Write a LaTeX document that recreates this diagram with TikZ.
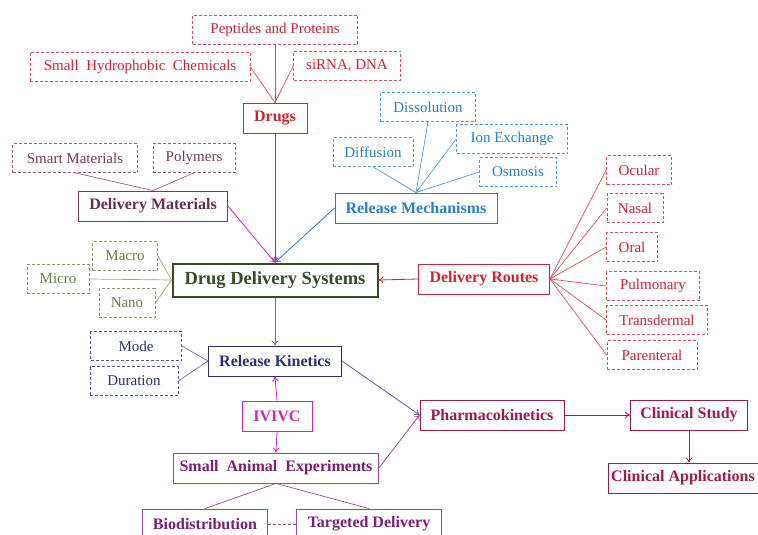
\documentclass[tikz,border=0pt]{standalone}
\usepackage{fontspec}
\setmainfont{Liberation Serif}
\usetikzlibrary{arrows.meta}

\definecolor{drugred}{RGB}{205,35,50}
\definecolor{matpurple}{RGB}{120,55,95}
\definecolor{mechblue}{RGB}{45,125,195}
\definecolor{sizegreen}{RGB}{105,125,70}
\definecolor{ddsgreen}{RGB}{55,75,40}
\definecolor{kinnavy}{RGB}{40,50,115}
\definecolor{ivmagenta}{RGB}{205,40,170}
\definecolor{animpurple}{RGB}{125,30,115}
\definecolor{pkred}{RGB}{160,25,75}

\begin{document}
\begin{tikzpicture}[x=1pt,y=-1pt,
    every node/.style={font=\fontsize{15}{17}\selectfont, inner sep=2pt},
    subbox/.style={draw, densely dashed, line width=0.7pt, minimum height=29},
    mainbox/.style={draw, line width=0.9pt, minimum height=30, font=\fontsize{16}{18}\selectfont\bfseries},
    link/.style={line width=0.7pt},
    arr/.style={line width=0.8pt, -{To[length=5pt,width=7pt]}}]
    \useasboundingbox (0,0) rectangle (758,535);
    % drugs
    \node[subbox, draw=drugred!80, text=drugred, minimum width=165] (peptides) at (275,30) {Peptides and Proteins};
    \node[subbox, draw=drugred!80, text=drugred, minimum width=220] (hydrophobic) at (140,67) {Small\enspace Hydrophobic\enspace Chemicals};
    \node[subbox, draw=drugred!80, text=drugred, minimum width=107] (sirna) at (347,66) {siRNA, DNA};
    \node[mainbox, draw=drugred, text=drugred, minimum width=64] (drugs) at (275,118) {Drugs};
    % materials
    \node[subbox, draw=matpurple!80, text=matpurple, minimum width=125] (smart) at (75,158) {Smart Materials};
    \node[subbox, draw=matpurple!80, text=matpurple, minimum width=82] (polymers) at (194,158) {Polymers};
    \node[mainbox, draw=matpurple, text=matpurple!85!black, minimum width=149] (delmat) at (153,206) {Delivery Materials};
    % mechanisms
    \node[subbox, draw=mechblue!80, text=mechblue, minimum width=95] (dissolution) at (428,107) {Dissolution};
    \node[subbox, draw=mechblue!80, text=mechblue, minimum width=111] (ionex) at (512,139) {Ion Exchange};
    \node[subbox, draw=mechblue!80, text=mechblue, minimum width=80] (diffusion) at (373,152) {Diffusion};
    \node[subbox, draw=mechblue!80, text=mechblue, minimum width=77] (osmosis) at (518,172) {Osmosis};
    \node[mainbox, draw=mechblue, text=mechblue, minimum width=162] (relmech) at (416,208) {Release Mechanisms};
    % routes
    \node[subbox, draw=drugred!80, text=drugred, minimum width=65] (ocular) at (639,170) {Ocular};
    \node[subbox, draw=drugred!80, text=drugred, minimum width=56] (nasal) at (635,208) {Nasal};
    \node[subbox, draw=drugred!80, text=drugred, minimum width=51] (oral) at (632,247) {Oral};
    \node[subbox, draw=drugred!80, text=drugred, minimum width=93] (pulmonary) at (653,286) {Pulmonary};
    \node[subbox, draw=drugred!80, text=drugred, minimum width=101] (transdermal) at (657,320) {Transdermal};
    \node[subbox, draw=drugred!80, text=drugred, minimum width=90] (parenteral) at (652,355) {Parenteral};
    \node[mainbox, draw=drugred, text=drugred, minimum width=131] (delroutes) at (484,279) {Delivery Routes};
    % centre
    \node[draw=ddsgreen, line width=2pt, text=ddsgreen, minimum width=205, minimum height=33, font=\fontsize{18.5}{21}\selectfont\bfseries] (dds) at (275,280) {Drug Delivery Systems};
    \node[subbox, draw=sizegreen!80, text=sizegreen, minimum width=65] (macro) at (125,256) {Macro};
    \node[subbox, draw=sizegreen!80, text=sizegreen, minimum width=62] (micro) at (58,279) {Micro};
    \node[subbox, draw=sizegreen!80, text=sizegreen, minimum width=56] (nano) at (127,303) {Nano};
    % kinetics
    \node[subbox, draw=kinnavy!80, text=kinnavy, minimum width=91] (mode) at (136,346) {Mode};
    \node[subbox, draw=kinnavy!80, text=kinnavy, minimum width=88] (duration) at (134,381) {Duration};
    \node[mainbox, draw=kinnavy, text=kinnavy, minimum width=133] (relkin) at (275,361) {Release Kinetics};
    \node[mainbox, draw=ivmagenta, text=ivmagenta, minimum width=70] (ivivc) at (277,416) {IVIVC};
    \node[mainbox, draw=animpurple!80, text=animpurple, minimum width=205] (animal) at (276,468) {Small\enspace Animal\enspace Experiments};
    \node[mainbox, draw=animpurple!80, text=animpurple, minimum width=125] (biodist) at (205,524) {Biodistribution};
    \node[mainbox, draw=animpurple!80, text=animpurple, minimum width=145] (targeted) at (369,524) {Targeted Delivery};
    % clinic
    \node[mainbox, draw=pkred, text=pkred, minimum width=144] (pharmaco) at (492,415) {Pharmacokinetics};
    \node[mainbox, draw=pkred, text=pkred, minimum width=117] (clinstudy) at (689,415) {Clinical Study};
    \node[mainbox, draw=pkred, text=pkred, minimum width=150] (clinapp) at (683,478) {Clinical Applications};

    \draw[link, drugred!80] (peptides.south) -- (drugs.north);
    \draw[link, drugred!80] (hydrophobic.east) -- (drugs.north);
    \draw[link, drugred!80] (sirna.west) -- (drugs.north);
    \draw[link, matpurple!80] (smart.south) -- (delmat.north);
    \draw[link, matpurple!80] (polymers.south) -- (delmat.north);
    \draw[link, mechblue!80] (diffusion.south) -- (relmech.north);
    \draw[link, mechblue!80] (dissolution.south) -- (relmech.north);
    \draw[link, mechblue!80] (ionex.west) -- (relmech.north);
    \draw[link, mechblue!80] (osmosis.west) -- (relmech.north);
    \foreach \r in {ocular,nasal,oral,pulmonary,transdermal,parenteral}
        \draw[link, drugred!80] (delroutes.east) -- (\r.west);
    \foreach \s in {macro,micro,nano}
        \draw[link, sizegreen!70] (\s.east) -- (dds.west);
    \foreach \k in {mode,duration}
        \draw[link, kinnavy!70] (\k.east) -- (relkin.west);
    \draw[arr, drugred] (drugs.south) -- (dds.north);
    \draw[arr, ivmagenta] (delmat.east) -- (dds.north);
    \draw[arr, mechblue] (relmech.west) -- (dds.north);
    \draw[arr, drugred] (delroutes.west) -- (dds.east);
    \draw[arr, sizegreen!70!gray] (dds.south) -- (relkin.north);
    \draw[arr, ivmagenta] (ivivc.north) -- (relkin.south);
    \draw[arr, ivmagenta] (ivivc.south) -- (animal.north);
    \draw[arr, kinnavy!80] (relkin.east) -- (pharmaco.west);
    \draw[arr, animpurple!80] (animal.east) -- (pharmaco.west);
    \draw[arr, pkred] (pharmaco.east) -- (clinstudy.west);
    \draw[arr, pkred] (clinstudy.south) -- (clinstudy.south |- clinapp.north);
    \draw[link, animpurple!80] (animal.south) -- (biodist.north);
    \draw[link, animpurple!80] (animal.south) -- (targeted.north);
    \draw[link, densely dashed, animpurple!80] (biodist.east) -- (targeted.west);
\end{tikzpicture}
\end{document}
